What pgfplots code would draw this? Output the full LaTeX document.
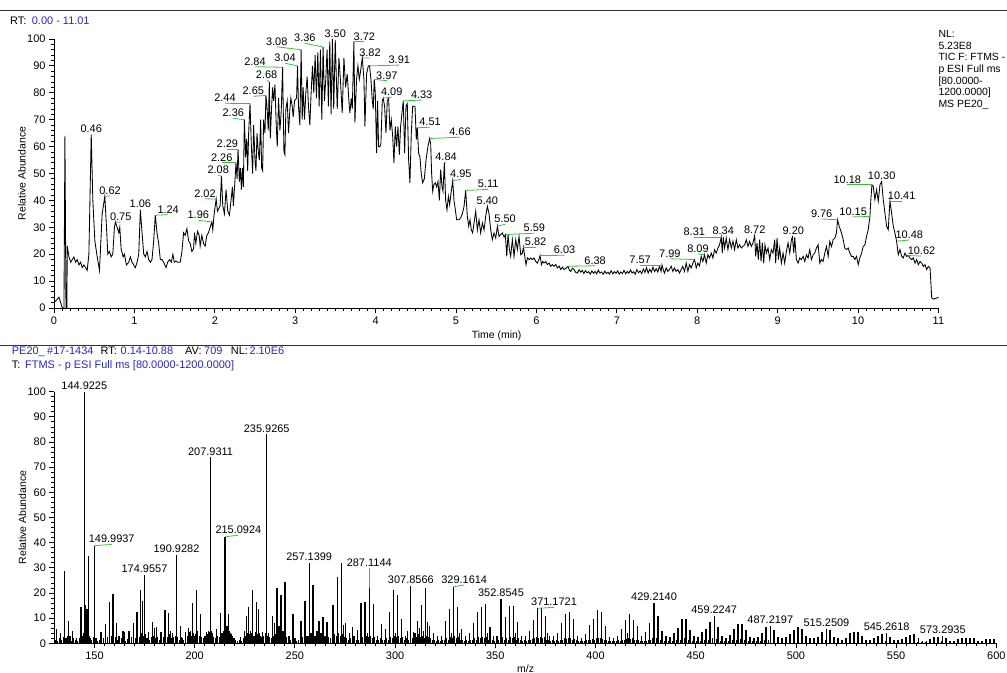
\documentclass[border=0pt]{standalone}
\usepackage{fontspec}
\setmainfont{Liberation Sans}
\usepackage{pgfplots}
\pgfplotsset{compat=1.18}
\definecolor{hdrblue}{RGB}{40,40,190}
\definecolor{ldgreen}{RGB}{60,190,60}
\pgfplotsset{
  msaxis/.style={
    scale only axis, clip=false,
    axis x line*=bottom, axis y line*=left,
    axis line style={-, line width=0.8bp, black},
    tick align=outside,
    major tick length=5bp, minor tick length=3bp,
    every tick/.style={black, line width=0.8bp},
    tick label style={font=\fontsize{11}{13}\selectfont},
    /pgf/number format/assume math mode=true,
    ymin=0, ymax=100, ytick={0,10,...,100}, minor y tick num=4,
    label style={font=\fontsize{10.5}{12}\selectfont, inner sep=0pt},
    ylabel={Relative Abundance},
  },
  leader/.style={draw=ldgreen, line width=0.8bp, no markers, forget plot},
}
\tikzset{plab/.style={font=\fontsize{11}{13}\selectfont, inner sep=0pt}}
\newcommand{\pl}[3]{\node[plab,anchor=south,yshift=2bp] at (axis cs:#1,#2) {#3};}
\newcommand{\gl}[5]{\addplot[leader] coordinates {(#3,#4) (#1,#2)};
  \node[plab,anchor=base,yshift=1.5bp] at (axis cs:#1,#2) {#5};}
\begin{document}
\begin{tikzpicture}
\path[use as bounding box] (0,0) rectangle (1007bp,673bp);
% header lines
\draw[black!80, line width=1bp] (0,662.3bp) -- (1007bp,662.3bp);
\draw[black!80, line width=1bp] (0,327bp) -- (1007bp,327bp);
\begin{scope}[every node/.style={font=\fontsize{11}{13}\selectfont, inner sep=0pt, anchor=base west}]
\node at (10bp,648.3bp) {RT:};
\node[text=hdrblue] at (31.7bp,648.3bp) {0.00 - 11.01};
\node[text=hdrblue] at (11.7bp,318bp) {PE20\_};
\node[text=hdrblue] at (47bp,318bp) {\#17-1434};
\node at (100.5bp,318bp) {RT:};
\node[text=hdrblue] at (120.5bp,318bp) {0.14-10.88};
\node at (185bp,318bp) {AV:};
\node[text=hdrblue] at (204bp,318bp) {709};
\node at (230.7bp,318bp) {NL:};
\node[text=hdrblue] at (249.3bp,318bp) {2.10E6};
\node at (11.7bp,304.3bp) {T:};
\node[text=hdrblue] at (25bp,304.3bp) {FTMS - p ESI Full ms [80.0000-1200.0000]};
\end{scope}
\begin{scope}[every node/.style={font=\fontsize{10.5}{12}\selectfont, inner sep=0pt, anchor=base west}]
\node at (938.3bp,635.3bp) {NL:};
\node at (938.3bp,623.7bp) {5.23E8};
\node at (938.3bp,612bp) {TIC F: FTMS -};
\node at (938.3bp,600.3bp) {p ESI Full ms};
\node at (938.3bp,588.7bp) {[80.0000-};
\node at (938.3bp,577bp) {1200.0000]};
\node at (938.3bp,565.3bp) {MS PE20\_};
\end{scope}

%================ chromatogram =================
\begin{axis}[msaxis, at={(54bp,365bp)}, anchor=south west,
  width=885.2bp, height=269bp,
  xmin=0, xmax=11.01, xtick={0,1,...,11}, minor x tick num=9,
  xlabel={Time (min)},
  xlabel style={at={(axis description cs:0.5,-0.0855)}, anchor=north},
  ylabel style={at={(axis description cs:-0.03615,0.5)}, anchor=center},
]
\addplot[black, line width=0.85bp, no markers] table {
t v
0.000 2
0.062 4
0.103 0
0.124 0
0.136 64
0.149 0
0.160 0
0.165 23
0.186 19
0.207 17
0.227 18
0.248 19
0.269 17
0.289 18
0.310 16
0.331 17
0.351 15
0.372 16
0.393 15
0.413 14
0.434 20
0.463 64.5
0.483 40
0.508 25
0.537 19
0.566 14
0.599 35
0.632 41.5
0.653 30
0.669 20
0.690 21
0.711 19
0.731 20
0.752 30
0.764 32
0.785 30
0.806 28
0.818 30
0.835 22
0.860 19
0.876 20
0.901 16
0.930 17
0.950 19
0.971 17
0.992 16
1.012 15
1.033 17
1.054 20
1.074 36.5
1.095 28
1.116 20
1.136 19
1.157 21
1.178 18
1.198 17
1.219 18
1.240 25
1.260 34.5
1.281 28
1.302 24
1.322 18
1.343 18
1.364 17
1.393 15
1.413 17
1.438 18
1.459 17
1.479 20
1.496 17
1.517 17.5
1.537 17
1.570 17
1.591 21
1.612 28
1.632 27
1.653 29.5
1.674 25
1.694 24
1.715 21
1.736 22
1.748 28
1.764 24
1.785 28.5
1.806 27
1.818 23
1.839 27
1.860 24
1.880 23
1.901 27
1.921 28
1.942 30
1.963 32
1.975 29
1.992 35
2.017 40.5
2.033 36
2.050 37
2.066 38
2.083 49
2.099 38
2.120 35
2.140 44
2.161 36
2.182 34.5
2.202 40
2.219 45
2.231 38
2.252 48
2.264 54
2.277 48
2.289 59
2.306 47
2.318 52
2.331 44
2.343 52
2.355 45
2.368 70
2.384 56
2.397 63
2.409 51
2.421 65
2.438 76
2.455 60
2.471 50
2.483 68
2.500 55
2.512 51
2.525 65
2.541 58
2.554 55
2.570 70
2.583 52
2.595 51
2.607 70
2.624 65
2.636 79
2.649 75
2.665 66
2.678 84
2.690 63
2.707 75
2.719 82
2.731 77
2.748 83
2.764 68
2.777 60
2.793 78
2.810 66
2.826 73
2.843 89.5
2.860 58
2.872 57
2.884 74
2.901 77
2.917 65
2.934 74
2.946 78
2.963 75
2.975 71
2.992 77
3.017 78
3.029 90
3.041 75
3.058 68
3.074 96
3.087 70
3.099 82
3.116 70
3.132 80
3.149 86
3.165 75
3.182 68
3.198 80
3.215 90
3.231 80
3.248 94
3.264 78
3.281 95
3.298 75
3.314 96
3.331 70
3.347 97
3.364 77
3.380 85
3.397 96
3.413 75
3.430 99
3.446 72
3.463 100
3.479 74
3.498 99.7
3.523 74
3.544 93
3.564 84
3.585 72.5
3.606 93
3.627 82
3.647 87
3.668 77
3.680 72.5
3.697 78
3.710 74
3.730 99
3.743 69
3.763 85
3.780 90
3.797 85
3.813 88
3.834 93
3.855 85
3.867 67.5
3.888 87
3.909 90
3.925 90
3.942 85
3.959 77
3.971 74
3.983 85
3.996 80
4.012 57.6
4.025 77
4.037 60
4.054 60
4.066 61
4.083 77
4.095 78
4.112 75
4.129 65
4.145 77
4.162 78
4.178 66
4.195 70
4.212 64
4.228 54
4.245 67.5
4.261 60
4.278 67.5
4.295 57
4.311 67.5
4.328 72.5
4.344 77
4.361 57.6
4.378 75
4.394 76
4.411 55
4.427 46.5
4.444 65
4.461 75
4.477 75
4.490 75
4.506 62.6
4.519 67
4.535 57.6
4.552 56
4.568 50
4.585 46.5
4.606 48
4.627 55
4.651 60
4.672 63
4.685 61
4.697 50
4.710 43.4
4.726 46
4.743 46.5
4.759 45
4.776 47
4.793 40
4.809 51.4
4.826 45
4.838 43.4
4.855 54
4.871 40
4.888 36.5
4.905 41.5
4.921 38.4
4.938 42.7
4.959 47.3
4.975 40
4.992 36.5
5.008 32.8
5.037 32.8
5.058 33.5
5.079 35
5.100 37.8
5.120 43.7
5.141 34
5.158 30.4
5.174 32.8
5.191 29
5.207 27.9
5.224 31.6
5.245 36
5.266 29
5.286 32.8
5.307 27.9
5.328 31.6
5.349 29
5.369 34
5.390 37.8
5.411 35
5.432 29
5.452 25.4
5.473 27.9
5.494 26
5.515 30.4
5.535 26.6
5.556 27.3
5.577 27.9
5.598 26.4
5.614 27.3
5.631 19.2
5.647 27.3
5.664 21.7
5.680 19.2
5.701 25.4
5.722 19.2
5.743 25.4
5.763 21.7
5.784 26.6
5.805 19.8
5.826 20.4
5.838 22.6
5.855 19.2
5.871 16.1
5.888 18.6
5.909 18
5.929 18.6
5.950 18
5.971 18.6
5.992 17.3
6.012 16.7
6.033 18.2
6.046 19.5
6.062 16.1
6.079 17.3
6.095 16.7
6.116 17.3
6.137 16.1
6.158 16.7
6.178 15.5
6.199 16.1
6.220 15.5
6.241 16.2
6.261 14.9
6.282 15.6
6.303 14.3
6.324 15.2
6.344 14.3
6.369 14.8
6.394 15.5
6.411 14
6.427 13.6
6.448 14.8
6.469 14.3
6.490 13.2
6.510 13
6.531 14.2
6.552 13.3
6.57 14.0
6.59 12.8
6.61 13.9
6.63 13.1
6.65 13.5
6.67 12.6
6.69 13.8
6.71 12.9
6.73 13.6
6.75 12.7
6.77 14.1
6.79 13.0
6.81 13.4
6.83 12.5
6.85 13.7
6.87 12.8
6.89 13.3
6.91 12.6
6.93 13.9
6.95 12.7
6.97 13.5
6.99 12.9
7.01 13.8
7.03 12.6
7.05 13.4
7.07 12.8
7.09 14.0
7.11 12.7
7.13 13.6
7.15 12.9
7.17 14.2
7.19 13.0
7.21 13.5
7.23 12.6
7.25 14.3
7.27 13.1
7.29 13.8
7.31 12.8
7.33 14.5
7.35 13.2
7.37 15.0
7.39 13.0
7.41 14.4
7.43 13.3
7.45 15.2
7.47 13.5
7.49 14.6
7.51 13.4
7.531 15.5
7.551 13.6
7.562 16.0
7.580 14.0
7.593 13
7.614 14.9
7.634 13.6
7.655 14.3
7.676 15.5
7.697 13.6
7.717 14.9
7.738 13.6
7.759 14.3
7.780 13
7.801 14.3
7.821 15.5
7.842 13.6
7.863 16.7
7.884 13.6
7.904 16.1
7.925 14.9
7.946 16.7
7.967 18
7.988 14.9
8.008 16.7
8.029 15.7
8.050 19.2
8.071 17.3
8.091 19.8
8.112 16.7
8.133 19.8
8.154 18.6
8.175 20.4
8.195 18.6
8.216 21.7
8.237 20.4
8.258 22.3
8.278 23.5
8.299 26.4
8.312 20.4
8.324 26.4
8.341 22.3
8.361 26
8.382 21.7
8.403 25.4
8.424 22.3
8.445 24.8
8.465 21.7
8.486 25.4
8.507 22.3
8.528 23.5
8.548 22.3
8.569 22.9
8.590 23.5
8.611 25.4
8.631 22.9
8.652 24.8
8.673 22.9
8.694 24.2
8.715 27
8.727 19.2
8.744 24.2
8.760 18
8.777 25.4
8.794 17.3
8.810 24.2
8.827 16.7
8.843 23.5
8.860 20.4
8.881 22.3
8.902 18
8.922 21.7
8.943 20.4
8.964 25.4
8.976 16.7
8.993 26
9.010 18
9.026 22.3
9.047 16.7
9.068 20.4
9.088 16.7
9.109 21
9.130 24.2
9.151 20.4
9.172 25.4
9.184 26.4
9.201 20.4
9.213 26.4
9.234 18
9.255 16.7
9.275 18.6
9.296 18
9.317 19.2
9.338 17.3
9.359 19.8
9.379 18.6
9.400 21.7
9.421 18
9.442 19.8
9.462 20.4
9.483 22.3
9.504 23.5
9.525 16.7
9.545 18
9.566 17.3
9.587 20.4
9.608 22.9
9.629 19.2
9.649 24.8
9.670 22.9
9.691 25.4
9.712 26
9.732 27.9
9.745 32.8
9.766 30.4
9.795 27.9
9.816 25.4
9.836 22.3
9.857 21.7
9.878 22.3
9.899 20.4
9.919 19.2
9.940 19.2
9.961 18
9.982 19.2
10.003 16.1
10.023 18.6
10.044 20.4
10.065 22.9
10.086 23.5
10.106 26.6
10.127 29.1
10.148 34
10.160 40.3
10.173 45.8
10.190 45.2
10.210 40.3
10.231 44
10.252 39.7
10.273 45.8
10.294 47
10.314 40.3
10.335 35.3
10.356 30.4
10.376 29.1
10.397 39.7
10.418 35.3
10.439 30.4
10.459 27.9
10.480 24.8
10.501 19.8
10.522 21.7
10.543 19.2
10.563 18.6
10.584 20.4
10.605 19.2
10.626 19.5
10.646 18.6
10.667 18
10.688 18.6
10.709 16.7
10.730 18
10.750 16.1
10.771 17.3
10.792 16.7
10.813 15.5
10.833 16.1
10.854 14.3
10.875 15.5
10.896 14.9
10.917 3.7
10.937 3.3
10.958 3.5
10.979 3.7
11.000 4
};
\pl{0.463}{64.5}{0.46}
\gl{0.697}{41.7}{0.632}{41.5}{0.62}
\gl{0.83}{31.9}{0.764}{32}{0.75}
\pl{1.074}{36.5}{1.06}
\gl{1.42}{34.7}{1.26}{34.5}{1.24}
\gl{1.795}{32.6}{1.963}{32}{1.96}
\gl{1.878}{40.6}{2.017}{40.5}{2.02}
\gl{2.043}{49.3}{2.083}{49}{2.08}
\gl{2.086}{54}{2.264}{54}{2.26}
\gl{2.156}{59}{2.289}{59}{2.29}
\gl{2.23}{70.5}{2.368}{70}{2.36}
\gl{2.127}{76.1}{2.438}{76}{2.44}
\gl{2.479}{78.7}{2.636}{79}{2.65}
\gl{2.645}{84.8}{2.678}{84}{2.68}
\gl{2.5}{89.7}{2.843}{89.5}{2.84}
\gl{2.873}{91}{3.029}{90}{3.04}
\gl{2.77}{97.1}{3.074}{96}{3.08}
\gl{3.12}{98.4}{3.347}{97}{3.36}
\pl{3.498}{99.7}{3.50}
\gl{3.86}{99}{3.730}{99}{3.72}
\gl{3.93}{92.9}{3.834}{93}{3.82}
\gl{4.295}{90.3}{3.925}{90}{3.91}
\gl{4.14}{84.5}{3.983}{85}{3.97}
\gl{4.2}{78.4}{4.095}{78}{4.09}
\gl{4.573}{77.3}{4.344}{77}{4.33}
\gl{4.677}{67.2}{4.519}{67}{4.51}
\gl{5.05}{63.5}{4.672}{63}{4.66}
\gl{4.876}{54.2}{4.855}{54}{4.84}
\gl{5.06}{47.8}{4.959}{47.3}{4.95}
\gl{5.4}{44.1}{5.12}{43.7}{5.11}
\pl{5.39}{37.8}{5.40}
\gl{5.61}{31.1}{5.515}{30.4}{5.50}
\gl{5.975}{27.8}{5.614}{27.3}{5.59}
\gl{5.99}{22.6}{5.838}{22.6}{5.82}
\gl{6.35}{19.6}{6.046}{19.5}{6.03}
\gl{6.73}{15.7}{6.394}{15.5}{6.38}
\gl{7.29}{16}{7.562}{16}{7.57}
\gl{7.66}{18.3}{7.967}{18}{7.99}
\gl{8.01}{20.1}{8.091}{19.8}{8.09}
\gl{7.964}{26.4}{8.299}{26.4}{8.31}
\pl{8.324}{26.4}{8.34}
\pl{8.715}{27}{8.72}
\pl{9.195}{26.4}{9.20}
\gl{9.548}{33.1}{9.745}{32.8}{9.76}
\gl{9.94}{33.9}{10.148}{34}{10.15}
\gl{9.867}{45.8}{10.173}{45.8}{10.18}
\pl{10.294}{47}{10.30}
\gl{10.543}{39.7}{10.397}{39.7}{10.41}
\gl{10.638}{25.3}{10.48}{24.8}{10.48}
\gl{10.79}{19.3}{10.626}{19.5}{10.62}
\end{axis}

%================ spectrum =================
\begin{axis}[msaxis, at={(54.4bp,29.7bp)}, anchor=south west,
  width=942.5bp, height=251.6bp,
  xmin=130, xmax=600.3, xtick={150,200,...,600}, minor x tick num=9,
  xlabel={m/z},
  xlabel style={at={(axis description cs:0.5,-0.0862)}, anchor=north},
  ylabel style={at={(axis description cs:-0.03395,0.5)}, anchor=center},
]
\addplot[ycomb, black, line width=0.7bp, no markers] coordinates {
(130.5,1.5) (131.5,1) (132.5,2) (133.5,1.2) (134.5,2.5) (135.5,1.5) (136.5,3) (137.5,1.5) (138.5,1) (139.5,2)
(140.5,1.2) (141.5,0.8) (142.5,2.2) (143.5,3) (144.5,4) (145.5,3.5) (146.5,2.5) (147.5,3) (148.5,1.5) (149.5,2.5)
(150.5,2) (151.5,1) (152.5,1.5) (153.5,1.2) (154.5,2) (155.5,1.5) (156.5,2.5) (157.5,1.8) (158.5,3) (159.5,2)
(160.5,2.5) (161.5,1.5) (162.5,1.2) (163.5,2) (164.5,1.5) (165.5,1) (166.5,1.8) (167.5,1.2) (168.5,2.5) (169.5,1.5)
(170.5,2) (171.5,3) (172.5,2.5) (173.5,4) (174.5,3) (175.5,3.5) (176.5,2) (177.5,1.5) (178.5,2.5) (179.5,3)
(180.5,2) (181.5,2.5) (182.5,1.5) (183.5,2) (184.5,2.5) (185.5,3) (186.5,2.5) (187.5,3.5) (188.5,2) (189.5,2.5)
(190.5,3) (191.5,2.5) (192.5,1.5) (193.5,2.5) (194.5,1.5) (195.5,2) (196.5,3) (197.5,4.5) (198.5,3) (199.5,4)
(200.5,3.5) (201.5,5) (202.5,3) (203.5,2.5) (204.5,2) (205.5,3) (206.5,3.5) (207.5,4.5) (208.5,5) (209.5,2.5)
(210.5,2) (211.5,3) (212.5,2.5) (213.5,4) (214.5,5) (215.5,6.5) (216.5,7) (217.5,5) (218.5,3.5) (219.5,2)
(220.5,1.5) (221.5,1) (222.5,1.5) (223.5,1) (224.5,2) (225.5,3) (226.5,4) (227.5,3.5) (228.5,4) (229.5,3)
(230.5,4.5) (231.5,3.5) (232.5,4) (233.5,2.5) (234.5,3) (235.5,4) (236.5,3) (237.5,2.5) (238.5,2) (239.5,3)
(240.5,3.5) (241.5,4) (242.5,3) (243.5,2.5) (244.5,3) (245.5,2.5) (246.5,2) (247.5,1.5) (248.5,2) (249.5,1.5)
(250.5,1) (251.5,1.5) (252.5,2) (253.5,2.5) (254.5,3) (255.5,2.5) (256.5,3) (257.5,3.5) (258.5,3) (259.5,2.5)
(260.5,2) (261.5,2.5) (262.5,3) (263.5,2.5) (264.5,2) (265.5,3) (266.5,2.5) (267.5,2) (268.5,3) (269.5,3.5)
(270.5,3) (271.5,4) (272.5,3) (273.5,3.5) (274.5,2.5) (275.5,2) (276.5,1.5) (277.5,2) (278.5,1.5) (279.5,2)
(280.5,1.5) (281.5,1.2) (282.5,2) (283.5,2.5) (284.5,2) (285.5,3) (286.5,2.5) (287.5,3) (288.5,2) (289.5,2.5)
(290.5,1.5) (291.5,1.2) (292.5,2) (293.5,1.5) (294.5,1.2) (295.5,2) (296.5,1.5) (297.5,2.5) (298.5,2) (299.5,3)
(300.5,2.5) (301.5,3) (302.5,2) (303.5,2.5) (304.5,1.5) (305.5,2) (306.5,1.5) (307.5,2.5) (308.5,2) (309.5,3)
(310.5,2.5) (311.5,3.5) (312.5,2.5) (313.5,3) (314.5,2) (315.5,3) (316.5,2.5) (317.5,2) (318.5,1.5) (319.5,1.2)
(320.5,1) (321.5,1.5) (322.5,1) (323.5,1.5) (324.5,1.2) (325.5,2) (326.5,1.5) (327.5,2.5) (328.5,2) (329.5,3)
(330.5,2) (331.5,2.5) (332.5,1.5) (333.5,1.2) (334.5,1) (335.5,1.5) (336.5,1) (337.5,1.2) (338.5,1.5) (339.5,2)
(340.5,1.5) (341.5,2.5) (342.5,2) (343.5,2.5) (344.5,2) (345.5,2.5) (346.5,1.5) (347.5,2) (348.5,1.2) (349.5,1)
(350.5,1.5) (351.5,1.2) (352.5,2) (353.5,2.5) (354.5,1.5) (355.5,2) (356.5,1.5) (357.5,2.5) (358.5,2) (359.5,2.5)
(360.5,1.5) (361.5,2) (362.5,1.2) (363.5,1) (364.5,1.2) (365.5,1) (366.5,1.5) (367.5,1.2) (368.5,1.8) (369.5,2)
(370.5,2.5) (371.5,2) (372.5,2.5) (373.5,2) (374.5,2.5) (375.5,1.5) (376.5,1.2) (377.5,1) (378.5,1.2) (379.5,1)
(380.5,1.2) (381.5,1) (382.5,1.5) (383.5,1.2) (384.5,2) (385.5,1.8) (386.5,2) (387.5,2.2) (388.5,1.5) (389.5,1.8)
(390.5,1.2) (391.5,1) (392.5,1) (393.5,0.8) (394.5,1) (395.5,1.2) (396.5,1.5) (397.5,1.2) (398.5,1.8) (399.5,1.5)
(400.5,2) (401.5,2.2) (402.5,2) (403.5,1.8) (404.5,1.5) (405.5,1.2) (406.5,1) (407.5,0.8) (408.5,1) (409.5,0.8)
(410.5,1) (411.5,1.2) (412.5,1) (413.5,1.5) (414.5,1.2) (415.5,1.8) (416.5,2) (417.5,1.8) (418.5,2) (419.5,1.5)
(420.5,1.2) (421.5,1.5) (422.5,1) (423.5,1) (424.5,0.8) (425.5,1) (426.5,1.2) (427.5,1.5) (428.5,2) (429.5,2.5)
(430.5,2) (431.5,1.8) (432.5,1.2) (433.5,1) (434.5,0.8) (435.5,1) (436.5,0.8) (437.5,1) (438.5,0.8) (439.5,1)
(440.5,1.2) (442.5,1.5) (444.5,2) (446.5,1.5) (448.5,1) (450.5,0.8) (452.5,1) (454.5,1.2) (456.5,1.5) (458.5,2)
(460.5,1.8) (462.5,1) (464.5,0.8) (466.5,1) (468.5,1.2) (470.5,1.5) (472.5,1.8) (474.5,1.5) (476.5,1) (478.5,0.8)
(480.5,0.8) (482.5,1) (484.5,1.2) (486.5,1.5) (488.5,1.2) (490.5,0.8) (492.5,0.6) (494.5,0.8) (496.5,1) (498.5,1.2)
(500.5,1.5) (502.5,1.2) (504.5,0.8) (506.5,0.6) (508.5,0.8) (510.5,0.8) (512.5,1) (514.5,1.2) (516.5,1) (518.5,0.8)
(520.5,0.6) (522.5,0.6) (524.5,0.8) (526.5,1) (528.5,1) (530.5,1) (532.5,0.8) (534.5,0.6) (536.5,0.6) (538.5,0.6)
(540.5,0.8) (542.5,0.8) (544.5,1) (546.5,0.8) (548.5,0.6) (550.5,0.5) (552.5,0.6) (554.5,0.6) (556.5,0.8) (558.5,0.8)
(560.5,0.6) (562.5,0.5) (564.5,0.5) (566.5,0.6) (568.5,0.6) (570.5,0.8) (572.5,0.8) (574.5,0.6) (576.5,0.5) (578.5,0.5)
(580.5,0.5) (582.5,0.6) (584.5,0.6) (586.5,0.6) (588.5,0.6) (590.5,0.5) (592.5,0.5) (594.5,0.5) (596.5,0.5) (598.5,0.5)
};
\addplot[ycomb, black, line width=1.3bp, no markers] table {
mz v
131.1 5.6
133.0 4.2
135.0 28.7
135.8 2
137.0 8.9
137.8 3
139.1 4.9
141.1 2
143.3 14.3
144.1 3
144.92 100
145.6 15.2
146.3 13.5
147.1 34.7
147.9 2
149.99 38.8
151.1 2
153.2 4.6
155.4 7.8
157.4 16.3
159.2 19.6
161.1 8.2
162.2 3
164.2 4.9
165.1 4.4
167.2 4.9
169.4 8.2
171.2 12.6
173.0 21.2
173.9 16.8
174.96 27.2
176.0 2
177.0 4.6
179.0 8.6
179.9 6
181.0 6.5
183.2 4.6
185.2 13.2
187.0 12.2
188.0 5
189.0 4
190.93 35
193.0 7
194.0 2
195.5 4.5
197.0 6
198.0 5
199.0 16
200.0 3
201.0 21
203.0 11.5
205.0 3
206.0 4.5
207.0 5
207.93 73.9
208.9 4
211.0 5.5
213.0 12
214.0 4
215.09 42.3
216.0 7
217.0 11.5
218.0 4
219.0 3
220.0 2
223.0 2.5
225.0 5
226.0 11
227.0 14.5
228.0 5
229.0 21
230.0 3
231.0 16.5
232.0 13.5
233.0 3
234.0 4.5
235.93 83
237.0 4
239.0 11
240.0 8
241.0 22
242.0 7
243.0 19
244.0 5
245.0 24.5
247.0 3
249.0 11.5
250.0 2
253.0 9
255.0 17
256.0 3
257.14 32
258.0 4
259.0 23
260.0 3
261.0 5
262.0 9
263.0 4
264.0 10.5
265.0 3
266.0 8.5
269.0 15.2
271.2 26.5
273.2 31.8
274.2 7.3
275.2 8
277.2 4
278.8 6.6
279.5 3
281.2 5.3
283.0 15.9
285.0 16.3
286.2 4
287.11 21.9
289.1 15.5
291.1 3
293.3 7.7
295.3 5.8
297.1 12.6
299.1 21.2
300.1 4
301.1 19.2
303.1 9.7
305.1 3
306.1 5
307.86 22.9
309.1 4.6
310.0 4
311.1 8.9
312.1 6
313.1 15.2
314.1 5
315.3 22.1
316.1 8.6
317.1 6.9
319.1 4
321.1 3
323.2 3
325.2 8.9
327.1 13.6
328.1 4
329.16 22.5
331.2 14.6
332.2 4
333.2 5.6
335.2 3
337.2 4
339.2 8
341.2 12.6
343.2 14.6
345.2 15.5
346.2 4
347.4 6.6
349.0 3
350.9 3
352.85 17.5
355.2 10.6
357.2 14.8
359.2 14.8
360.2 4
361.2 8.5
363.2 3
365.2 3
367.2 4.9
369.2 9.3
371.17 13.9
373.1 13.9
375.1 10.7
376.1 4
377.1 3
379.1 3
381.1 4.2
383.1 8
385.1 11.7
387.1 12.5
389.1 9.5
391.1 3
393.1 2
395.1 3.6
397.1 7.3
399.1 9.5
401.1 13.2
403.1 12.6
405.1 7
407.1 2.5
409.1 2
411.1 3
413.1 5.6
415.1 9.3
416.1 4
417.1 11.7
419.1 9.3
421.1 7
423.1 3
425.1 4.6
427.0 8.2
429.21 15.9
431.2 11
433.2 5
435.2 3
437.2 2.5
439.2 4
441.2 6
443.2 9.5
445.2 9.5
447.2 5.3
449.2 3
451.2 2.5
453.2 4.6
455.2 5.8
457.2 8.6
459.22 10.9
461.1 6.6
463.1 3
465.1 2
467.1 3.2
469.1 5.6
471.1 7.5
473.1 7.5
475.1 5.3
477.1 2.5
479.1 2
481.1 2.6
483.1 4.2
485.1 6.6
487.22 6.9
489.1 5.3
491.1 2.5
493.1 2
495.1 2.4
497.1 3.6
499.1 5.3
501.1 6.6
503.1 5.6
505.1 2.9
507.1 2
509.0 2
511.0 2.6
513.0 4.6
515.25 5.6
517.0 5.3
519.0 2.6
521.0 2
523.0 1.5
525.0 2.2
527.0 4
529.0 4.5
531.0 4.4
533.0 2.9
535.0 1.5
537.0 1.5
539.0 2
541.0 2.9
543.0 3.7
545.26 4
547.0 2.6
549.0 1.5
551.0 1.2
553.0 1.7
555.0 2.4
557.0 3.3
559.0 3.6
561.0 2
563.0 1
565.0 1
566.9 1.7
568.9 2.4
570.9 2.6
573.29 2.9
574.9 2
576.9 1
578.9 1
580.9 1.6
582.9 2
584.9 2.2
586.9 2.2
588.9 2
590.9 1
592.9 1
594.9 1.6
596.9 1.6
598.9 1.6
};
\pl{144.92}{100}{144.9225}
\gl{158.6}{39.3}{149.99}{38.8}{149.9937}
\pl{174.96}{27.2}{174.9557}
\pl{190.93}{35}{190.9282}
\pl{207.93}{73.9}{207.9311}
\gl{221.8}{43}{215.09}{42.3}{215.0924}
\pl{235.93}{83}{235.9265}
\pl{257.14}{32}{257.1399}
\gl{287.11}{29.8}{287.11}{21.9}{287.1144}
\pl{307.86}{22.9}{307.8566}
\gl{334.5}{23.2}{329.16}{22.5}{329.1614}
\pl{352.85}{17.5}{352.8545}
\gl{379.3}{14.3}{371.17}{13.9}{371.1721}
\pl{429.21}{15.9}{429.2140}
\pl{459.22}{10.9}{459.2247}
\pl{487.22}{6.9}{487.2197}
\pl{515.25}{5.6}{515.2509}
\pl{545.26}{4}{545.2618}
\pl{573.29}{2.9}{573.2935}
\end{axis}
\end{tikzpicture}
\end{document}
